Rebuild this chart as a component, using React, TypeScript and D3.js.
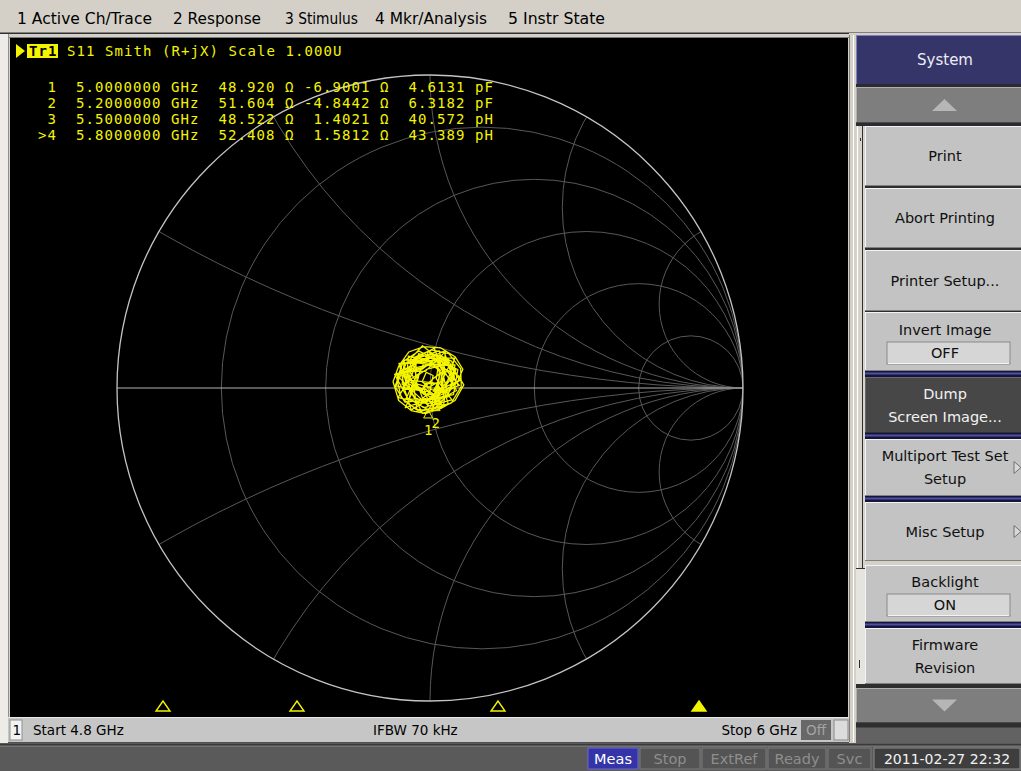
import React from 'react';
import * as d3 from 'd3';

// ---------- data ----------
const menuItems = ['1 Active Ch/Trace', '2 Response', '3 Stimulus', '4 Mkr/Analysis', '5 Instr State'];

const resistanceCircles = [0.2, 0.5, 1, 2, 5];
const reactanceArcs = [0.2679, 0.5774, 1, 1.7321, 3.7321];

const markerLabels = [' 1', ' 2', ' 3', '>4'];
const markerFreqGHz = [5.0, 5.2, 5.5, 5.8];
const markerResOhm = [48.92, 51.604, 48.522, 52.408];
const markerReactOhm = [-6.9001, -4.8442, 1.4021, 1.5812];
const markerLC = ['4.6131 pF', '6.3182 pF', '40.572 pH', '43.389 pH'];
const activeMarker = 3;

const startGHz = 4.8;
const stopGHz = 6.0;
const z0 = 50;

// S11 trace (reflection coefficient, real / imaginary)
const traceRe = [
  -0.089, -0.082, -0.005, 0.079, 0.054, 0.043, -0.041, -0.052, -0.083, -0.024,
  0.043, 0.035, 0.058, -0.024, -0.061, -0.085, -0.015, 0.046, 0.074, 0.037,
  -0.006, -0.072, -0.113, -0.028, 0.019, 0.089, 0.075, 0.005, -0.079, -0.04,
  -0.058, 0.013, 0.045, 0.085, 0.02, -0.025, -0.109, -0.074, -0.005, 0.033,
  0.018, 0.042, -0.015, -0.08, -0.099, -0.016, 0.05, 0.095, 0.024, -0.018,
  -0.102, -0.057, -0.036, 0.029, 0.02, 0.07, -0.005, -0.051, -0.108, -0.025,
  0.021, 0.083, 0.038, 0.01, -0.028, -0.075, -0.069, 0.005, 0.034, 0.023,
  -0.015, -0.025, -0.069, -0.072, -0.005, 0.055, 0.09, 0.025, -0.015, -0.084,
  -0.066, -0.013, 0.054, 0.097, 0.031, -0.018, -0.038, -0.09, -0.028, 0.049,
  0.044, 0.058, -0.005, -0.077, -0.046, -0.044, 0.029, 0.05, 0.025, 0.007,
  0.024, -0.065, -0.062, 0.003, 0.08, 0.065, 0.013, -0.06, -0.086, -0.033,
  -0.005, 0.044, 0.094, 0.019, -0.034, -0.071, -0.095, -0.015, 0.053, 0.035,
  0.044, 0.04, 0.062, 0.02, -0.03, -0.07, -0.078, -0.05, -0.008, 0.04,
  0.07, 0.066, 0.03, -0.01, -0.04, -0.045, -0.02, 0.015, 0.04, 0.045,
  0.02, -0.035, -0.085, -0.106, -0.092, -0.045, 0.015, 0.068, 0.1, 0.098,
  0.06, 0.005, -0.05, -0.062, -0.04, -0.004, 0.028, 0.03, 0.0, -0.03,
  -0.038, -0.06, -0.07, -0.03, 0.02, 0.058, 0.078, 0.07, 0.03, -0.015,
  -0.055, -0.095, -0.112, -0.08, -0.03, 0.0, 0.01, -0.012, -0.025, 0.005,
  0.05, 0.088, 0.105, 0.08, 0.035, -0.02, -0.068, -0.1, -0.118, -0.1,
  -0.06, -0.015, 0.035, 0.08, 0.108, 0.09, 0.05, 0.01, -0.02, -0.006,
  0.018,
];
const traceIm = [
  0.01, 0.089, 0.095, 0.096, 0.015, -0.057, -0.074, 0.008, 0.07, 0.135,
  0.082, 0.025, -0.05, -0.081, -0.008, 0.054, 0.053, 0.113, 0.039, -0.01,
  -0.07, -0.032, 0.044, 0.064, 0.091, 0.059, -0.021, -0.034, -0.063, 0.025,
  0.089, 0.127, 0.054, -0.008, -0.043, -0.01, 0.007, 0.083, 0.091, 0.057,
  -0.047, -0.056, -0.003, -0.002, 0.079, 0.086, 0.091, 0.025, -0.009, -0.048,
  -0.031, 0.044, 0.11, 0.084, 0.029, -0.038, -0.057, -0.014, 0.043, 0.06,
  0.096, 0.057, 0.0, -0.06, -0.002, 0.025, 0.102, 0.082, 0.048, 0.015,
  0.014, -0.01, 0.014, 0.082, 0.077, 0.075, 0.008, -0.027, -0.003, -0.004,
  0.06, 0.072, 0.095, 0.025, -0.018, -0.048, 0.006, 0.056, 0.087, 0.119,
  0.034, -0.028, -0.037, -0.035, 0.032, 0.093, 0.119, 0.045, 0.008, -0.044,
  0.015, 0.025, 0.092, 0.07, 0.074, 0.0, -0.026, -0.07, 0.011, 0.048,
  0.117, 0.066, 0.008, -0.017, -0.056, 0.001, 0.077, 0.082, 0.094, 0.025,
  -0.033, 0.03, 0.072, 0.108, 0.1, 0.06, 0.012, -0.03, -0.05, -0.04,
  0.0, 0.05, 0.07, 0.06, 0.04, 0.005, -0.02, -0.02, 0.005, 0.045,
  0.09, 0.118, 0.085, 0.03, -0.03, -0.068, -0.072, -0.048, 0.005, 0.062,
  0.11, 0.122, 0.098, 0.05, 0.012, 0.002, 0.02, 0.058, 0.075, 0.062,
  0.03, -0.005, -0.05, -0.075, -0.06, -0.02, 0.035, 0.085, 0.105, 0.095,
  0.075, 0.05, 0.005, -0.045, -0.04, -0.01, 0.04, 0.05, 0.02, -0.005,
  -0.01, 0.02, 0.06, 0.1, 0.128, 0.132, 0.115, 0.07, 0.02, -0.04,
  -0.072, -0.082, -0.065, -0.04, 0.01, 0.04, 0.06, 0.03, 0.0, -0.04,
  -0.047,
];

const softkeys = [
  { lines: ['System'], kind: 'header' },
  { lines: [], kind: 'up' },
  { lines: ['Print'], kind: 'normal' },
  { lines: ['Abort Printing'], kind: 'normal' },
  { lines: ['Printer Setup...'], kind: 'normal' },
  { lines: ['Invert Image'], kind: 'normal', value: 'OFF' },
  { lines: ['Dump', 'Screen Image...'], kind: 'dark' },
  { lines: ['Multiport Test Set', 'Setup'], kind: 'normal', arrow: true },
  { lines: ['Misc Setup'], kind: 'normal', arrow: true },
  { lines: ['Backlight'], kind: 'normal', value: 'ON' },
  { lines: ['Firmware', 'Revision'], kind: 'normal' },
  { lines: [], kind: 'down' },
];

const statusItems = ['Meas', 'Stop', 'ExtRef', 'Ready', 'Svc'];
const statusActive = ['Meas'];
const dateText = '2011-02-27 22:32';

// ---------- layout ----------
const W = 1021;
const H = 771;
const cx = 430;
const cy = 388;
const R = 313;
const YEL = '#f4f400';
const MONO = '"DejaVu Sans Mono", "Liberation Mono", monospace';
const SANS = '"DejaVu Sans", "Noto Sans", sans-serif';

const softkeyBoxes = [
  [35, 84], [87, 123], [126, 186], [188, 248], [250, 311], [312, 371],
  [377, 433], [439, 496], [502, 561], [565, 622], [628, 684], [688, 723],
];
const navySeps = [[371, 377], [433, 439], [496, 502], [622, 628]];
const statusBoxes = [[588, 638], [640, 700], [702, 766], [768, 826], [828, 871]];
const menuX = [17, 173, 285, 375, 508];
const menuW = [135, 88, 73, 112, 97];

function gamma(rOhm: number, xOhm: number): [number, number] {
  const zr = rOhm / z0;
  const zi = xOhm / z0;
  const nr = zr - 1, ni = zi;
  const dr = zr + 1, di = zi;
  const den = dr * dr + di * di;
  return [(nr * dr + ni * di) / den, (ni * dr - nr * di) / den];
}

function SmithChart() {
  const gx = d3.scaleLinear().domain([-1, 1]).range([cx - R, cx + R]);
  const gy = d3.scaleLinear().domain([-1, 1]).range([cy + R, cy - R]);
  const len = (v: number) => gx(v) - gx(0);
  const pts: [number, number][] = traceRe.map((v, i) => [v, traceIm[i]]);
  const line = d3
    .line<[number, number]>()
    .x((d) => gx(d[0]))
    .y((d) => gy(d[1]));
  const grid = '#585858';
  return (
    <g>
      <defs>
        <clipPath id="unit">
          <circle cx={gx(0)} cy={gy(0)} r={len(1)} />
        </clipPath>
      </defs>
      <g clipPath="url(#unit)" fill="none" stroke={grid} strokeWidth={1}>
        {resistanceCircles.map((r) => (
          <circle key={'r' + r} cx={gx(r / (1 + r))} cy={gy(0)} r={len(1 / (1 + r))} />
        ))}
        {reactanceArcs.map((x) => (
          <g key={'x' + x}>
            <circle cx={gx(1)} cy={gy(1 / x)} r={len(1 / x)} />
            <circle cx={gx(1)} cy={gy(-1 / x)} r={len(1 / x)} />
          </g>
        ))}
      </g>
      <line x1={gx(-1)} x2={gx(1)} y1={gy(0)} y2={gy(0)} stroke="#b4b4b4" strokeWidth={1.2} />
      <circle cx={gx(0)} cy={gy(0)} r={len(1)} fill="none" stroke="#c4c4c4" strokeWidth={1.3} />
      <path d={line(pts) || ''} fill="none" stroke={YEL} strokeWidth={1.3} strokeLinejoin="round" />
      {markerResOhm.map((r, i) => {
        const g = gamma(r, markerReactOhm[i]);
        const px = gx(g[0]);
        const py = gy(g[1]);
        return (
          <g key={'m' + i}>
            <path
              d={`M${px},${py} L${px - 4.5},${py + 8} L${px + 4.5},${py + 8} Z`}
              fill={i === activeMarker ? YEL : 'none'}
              stroke={YEL}
              strokeWidth={1}
            />
            <text x={px} y={py + 25} fill={YEL} fontFamily={MONO} fontSize={14} textAnchor="middle">
              {markerLabels[i].trim().replace('>', '')}
            </text>
          </g>
        );
      })}
    </g>
  );
}

function MarkerTable() {
  const rows = markerLabels.map((lab, i) => {
    const f = markerFreqGHz[i].toFixed(7) + ' GHz';
    const r = markerResOhm[i].toFixed(3);
    const x = markerReactOhm[i].toFixed(4).padStart(7, ' ');
    return `${lab}  ${f}  ${r} Ω ${x} Ω  ${markerLC[i]}`;
  });
  return (
    <g fontFamily={MONO} fontSize={14} fill={YEL} style={{ letterSpacing: '1.07px', whiteSpace: 'pre' }}>
      <path d="M16,44 L16,58 L25,51 Z" fill={YEL} />
      <rect x={27} y={44} width={31} height={14} fill={YEL} />
      <text x={29} y={56} fill="#000" fontWeight="bold">Tr1</text>
      <text x={67} y={56}>S11 Smith (R+jX) Scale 1.000U</text>
      {rows.map((s, i) => (
        <text key={i} x={38} y={92 + i * 16} xmlSpace="preserve">
          {s}
        </text>
      ))}
    </g>
  );
}

function StimulusMarkers() {
  const fx = d3.scaleLinear().domain([startGHz, stopGHz]).range([29, 833]);
  return (
    <g>
      {markerFreqGHz.map((f, i) => {
        const x = fx(f);
        return (
          <path
            key={i}
            d={`M${x - 7},711 L${x + 7},711 L${x},701 Z`}
            fill={i === activeMarker ? YEL : 'none'}
            stroke={YEL}
            strokeWidth={1.4}
          />
        );
      })}
    </g>
  );
}

function SoftkeyPanel() {
  const x0 = 865;
  return (
    <g fontFamily={SANS} fontSize={14.5}>
      <rect x={849} y={33} width={172} height={711} fill="#d4d0c8" />
      <line x1={849.5} y1={35} x2={849.5} y2={742} stroke="#808080" />
      <line x1={853.5} y1={35} x2={853.5} y2={742} stroke="#ffffff" />
      <rect x={856} y={126} width={9} height={558} fill="#d6d3cc" />
      <line x1={857.5} y1={126} x2={857.5} y2={568} stroke="#ffffff" />
      <line x1={862.5} y1={126} x2={862.5} y2={568} stroke="#303030" />
      <line x1={856} y1={568.5} x2={865} y2={568.5} stroke="#303030" />
      <rect x={856} y={569} width={9} height={115} fill="#e6e4de" />
      <line x1={860.5} y1={138} x2={860.5} y2={141} stroke="#303030" />
      <line x1={859.5} y1={660} x2={859.5} y2={668} stroke="#303030" />
      <rect x={856} y={84} width={165} height={42} fill="#2a2a30" />
      <rect x={x0} y={126} width={156} height={558} fill="#2e2e2e" />
      <rect x={x0} y={561} width={156} height={4} fill="#d4d0c8" />
      {navySeps.map(([a, b], i) => (
        <g key={'ns' + i}>
          <rect x={x0} y={a} width={156} height={b - a} fill="#14143c" />
          <line x1={x0} x2={1021} y1={a + 2.5} y2={a + 2.5} stroke="#5050a0" strokeWidth={2} />
        </g>
      ))}
      <rect x={856} y={684} width={165} height={4} fill="#2e2e2e" />
      {softkeys.map((k, i) => {
        const [y0, y1] = softkeyBoxes[i];
        const h = y1 - y0;
        const mid = (y0 + y1) / 2;
        if (k.kind === 'header') {
          return (
            <g key={i}>
              <rect x={856} y={y0} width={165} height={h} fill="#35356a" />
              <line x1={856} x2={1021} y1={y0 + 0.5} y2={y0 + 0.5} stroke="#8080b8" />
              <line x1={856.5} x2={856.5} y1={y0} y2={y1} stroke="#8080b8" />
              <text x={945} y={mid + 5} fill="#ececf4" textAnchor="middle" fontSize={15}>
                {k.lines[0]}
              </text>
            </g>
          );
        }
        if (k.kind === 'up' || k.kind === 'down') {
          const up = k.kind === 'up';
          return (
            <g key={i}>
              <rect x={856} y={y0} width={165} height={h} fill="#7e7e7e" />
              <line x1={856} x2={1021} y1={y0 + 0.5} y2={y0 + 0.5} stroke="#b0b0b0" />
              <line x1={856.5} x2={856.5} y1={y0} y2={y1} stroke="#b0b0b0" />
              <line x1={856} x2={1021} y1={y1 - 0.5} y2={y1 - 0.5} stroke="#4a4a4a" />
              <path
                d={up ? `M932,${mid + 6} L957,${mid + 6} L944.5,${mid - 6} Z` : `M932,${mid - 6} L957,${mid - 6} L944.5,${mid + 6} Z`}
                fill="#b6b6b6"
              />
            </g>
          );
        }
        const dark = k.kind === 'dark';
        const bg = dark ? '#474747' : '#c3c3c3';
        const fg = dark ? '#f2f2f2' : '#101010';
        const nLines = k.lines.length + (k.value ? 1 : 0);
        const startY = mid - ((nLines - 1) * 23) / 2;
        return (
          <g key={i}>
            <rect x={x0} y={y0} width={156} height={h} fill={bg} />
            <line x1={x0} x2={1021} y1={y0 + 0.5} y2={y0 + 0.5} stroke={dark ? '#6a6a6a' : '#f4f4f4'} />
            <line x1={x0 + 0.5} x2={x0 + 0.5} y1={y0} y2={y1} stroke={dark ? '#6a6a6a' : '#f4f4f4'} />
            <line x1={x0} x2={1021} y1={y1 - 0.5} y2={y1 - 0.5} stroke={dark ? '#303030' : '#808080'} />
            {k.lines.map((t, j) => (
              <text key={j} x={945} y={startY + j * 23 + 5} fill={fg} textAnchor="middle">
                {t}
              </text>
            ))}
            {k.value && (
              <g>
                <rect x={887} y={startY + 23 - 11} width={123} height={22} fill="#d6d6d6" stroke="#8a8a8a" />
                <line x1={888} x2={1009} y1={startY + 23 + 10.5} y2={startY + 23 + 10.5} stroke="#f4f4f4" />
                <text x={945} y={startY + 23 + 5} fill="#101010" textAnchor="middle">
                  {k.value}
                </text>
              </g>
            )}
            {k.arrow && (
              <path
                d={`M1014,${mid - 6} L1021,${mid} L1014,${mid + 6} Z`}
                fill="#d8d8d8"
                stroke="#707070"
              />
            )}
          </g>
        );
      })}
      <rect x={856} y={723} width={165} height={4} fill="#2e2e2e" />
      <rect x={856} y={727} width={165} height={16} fill="#626262" />
      <line x1={856} x2={1021} y1={727.5} y2={727.5} stroke="#484848" />
    </g>
  );
}

function SweepBar() {
  return (
    <g fontFamily={SANS} fontSize={13.5}>
      <rect x={8} y={717} width={842} height={26} fill="#c6c6c6" />
      <line x1={8} x2={850} y1={717.5} y2={717.5} stroke="#e8e8e8" />
      <line x1={8} x2={850} y1={742.5} y2={742.5} stroke="#505050" />
      <rect x={10} y={720} width={12} height={20} fill="#f2f2f2" stroke="#909090" />
      <text x={12.5} y={735} fill="#000">1</text>
      <text x={33} y={735} fill="#000">Start {startGHz} GHz</text>
      <text x={373} y={735} fill="#000">IFBW 70 kHz</text>
      <text x={797} y={735} fill="#000" textAnchor="end">
        Stop {stopGHz} GHz
      </text>
      <rect x={801} y={720} width={30} height={20} fill="#686868" />
      <text x={816} y={735} fill="#a4a4a4" textAnchor="middle">Off</text>
      <rect x={834} y={720} width={14} height={20} fill="#dcdcdc" stroke="#8a8a8a" />
    </g>
  );
}

function StatusBar() {
  return (
    <g fontFamily={SANS} fontSize={14.5}>
      <rect x={0} y={743} width={W} height={28} fill="#5a5a5a" />
      <line x1={0} x2={W} y1={744.5} y2={744.5} stroke="#3a3a3a" />
      <line x1={0} x2={W} y1={746.5} y2={746.5} stroke="#707070" />
      {statusItems.map((s, i) => {
        const [a, b] = statusBoxes[i];
        const act = statusActive.includes(s);
        return (
          <g key={s}>
            <rect x={a} y={748} width={b - a} height={21} fill={act ? '#3434a8' : '#545454'} stroke={act ? '#6a6ad0' : '#7a7a7a'} />
            <text x={(a + b) / 2} y={764} textAnchor="middle" fill={act ? '#ffffff' : '#8e8e8e'}>
              {s}
            </text>
          </g>
        );
      })}
      <rect x={874} y={748} width={146} height={21} fill="#3e3e3e" stroke="#8a8a8a" />
      <text x={947} y={764} textAnchor="middle" fill="#f2f2f2" fontSize={14}>
        {dateText}
      </text>
    </g>
  );
}

export default function App() {
  return (
    <div style={{ position: 'absolute', left: 0, top: 0 }}>
      <svg width={W} height={H} viewBox={`0 0 ${W} ${H}`} style={{ display: 'block' }}>
        <rect x={0} y={0} width={W} height={H} fill="#d4d0c8" />
        <g fontFamily={SANS} fontSize={15} fill="#000">
          {menuItems.map((m, i) => (
            <text key={m} x={menuX[i]} y={24} textLength={menuW[i]} lengthAdjust="spacingAndGlyphs">
              {m}
            </text>
          ))}
        </g>
        <line x1={0} x2={W} y1={32.5} y2={32.5} stroke="#808080" />
        <line x1={0} x2={W} y1={33.5} y2={33.5} stroke="#303030" />
        <rect x={0} y={34} width={8} height={709} fill="#eeece8" />
        <line x1={8.5} x2={8.5} y1={34} y2={717} stroke="#909090" />
        <rect x={10} y={38} width={838} height={679} fill="#000" />
        <line x1={9} x2={849} y1={37.5} y2={37.5} stroke="#7a7a7a" />
        <SmithChart />
        <MarkerTable />
        <StimulusMarkers />
        <SweepBar />
        <SoftkeyPanel />
        <StatusBar />
      </svg>
    </div>
  );
}
